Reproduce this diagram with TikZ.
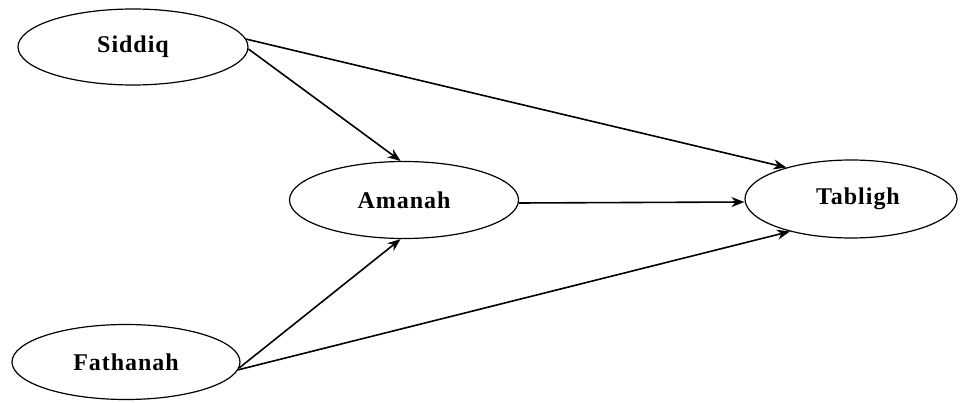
\documentclass[tikz,border=0pt]{standalone}
\usepackage{fontspec}
\setmainfont{Liberation Serif}
\usetikzlibrary{shapes.geometric,arrows.meta}
\begin{document}
\begin{tikzpicture}[x=1pt,y=-1pt,
  var/.style={draw,ellipse,line width=1.2pt,inner sep=0pt,
    font=\fontsize{24}{26}\selectfont\bfseries\addfontfeature{LetterSpace=4}},
  conn/.style={line width=1.6pt,-{Stealth[length=13pt,width=10pt]}}]
\useasboundingbox (0,0) rectangle (963,403);
\node[var,minimum width=230pt,minimum height=76pt] (siddiq) at (133,47) {Siddiq};
\node[var,minimum width=229pt,minimum height=77pt] (amanah) at (404,200) {Amanah};
\node[var,minimum width=212pt,minimum height=78pt] (tabligh) at (851,199) {\hspace{14pt}Tabligh};
\node[var,minimum width=228pt,minimum height=75pt] (fathanah) at (126,362) {Fathanah};
\draw[conn] (siddiq.4) -- (tabligh.154);
\draw[conn] (siddiq.-1) -- (amanah.95);
\draw[conn] ([yshift=-3pt]amanah.east) -- ([yshift=-3pt]tabligh.west);
\draw[conn] (fathanah.-3) -- (amanah.265);
\draw[conn] (fathanah.-4) -- (tabligh.208);
\end{tikzpicture}
\end{document}
